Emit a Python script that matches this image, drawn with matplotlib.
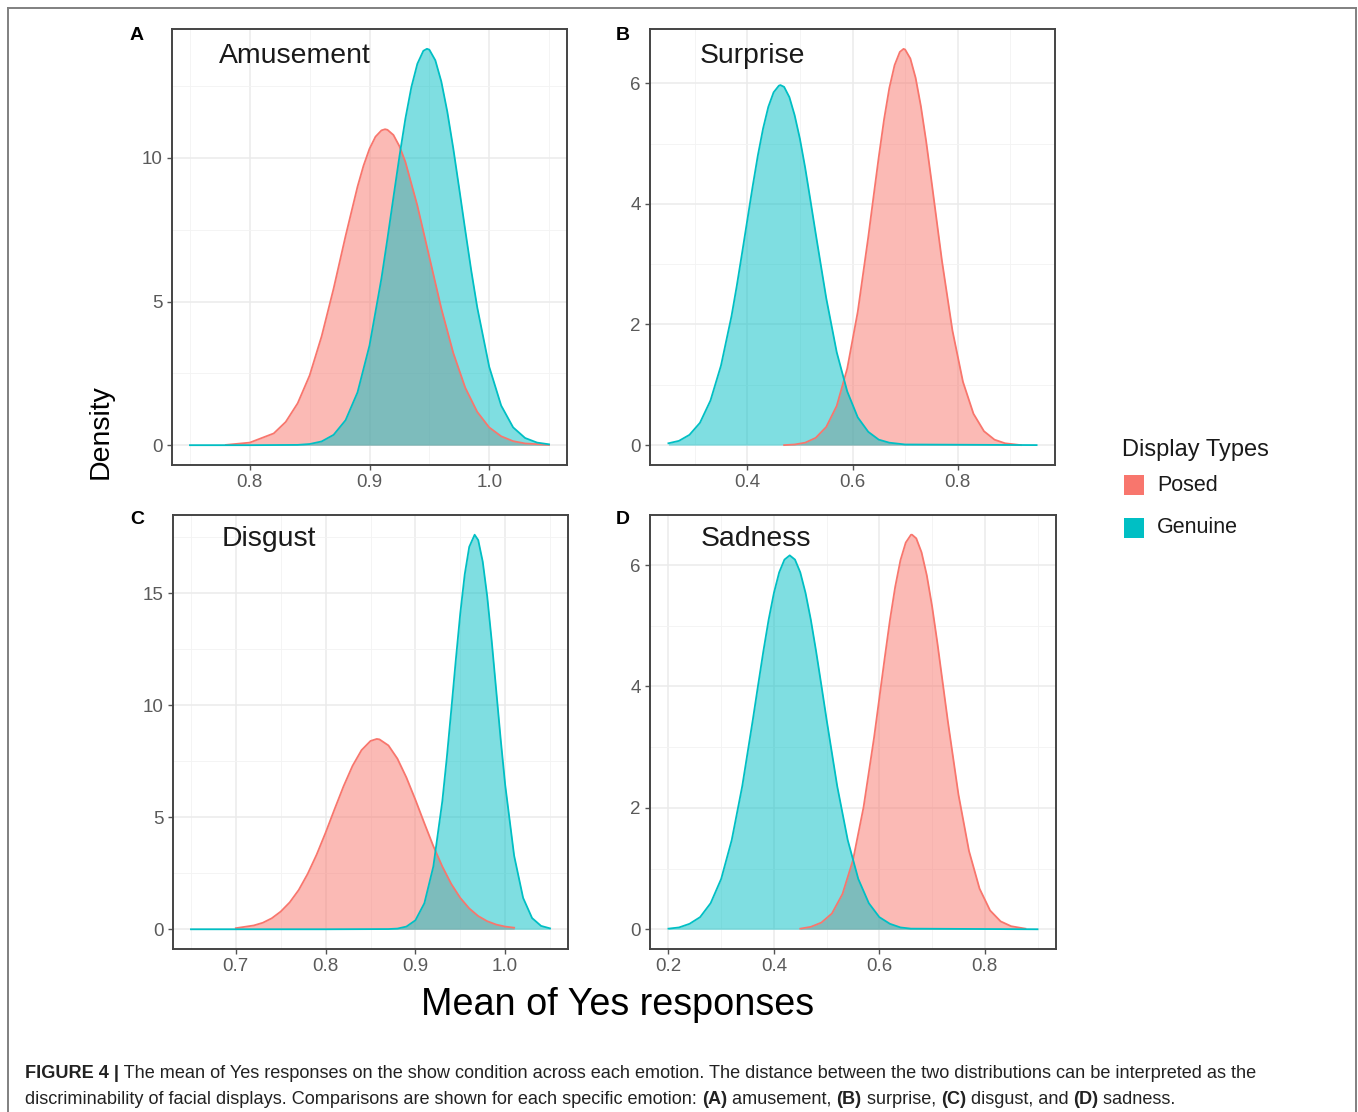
import matplotlib
matplotlib.use('Agg')
import matplotlib.pyplot as plt
from matplotlib.patches import Rectangle
from matplotlib.lines import Line2D

plt.rcParams['font.family'] = ['Liberation Sans', 'DejaVu Sans']

# ---- colores de ggplot
POSED = '#F8766D'
GENUINE = '#00BFC4'

# ---- datos (densidad vs media de respuestas "Yes")
# A) Amusement
a_posed_x = [0.78, 0.80, 0.82, 0.83, 0.84, 0.85, 0.86, 0.87, 0.88, 0.89, 0.895, 0.90, 0.905, 0.91,
             0.913, 0.915, 0.92, 0.925, 0.93, 0.94, 0.95, 0.96, 0.97, 0.98, 0.99, 1.00, 1.01, 1.02,
             1.03, 1.05]
a_posed_y = [0.01, 0.09, 0.41, 0.81, 1.46, 2.43, 3.79, 5.45, 7.28, 9.00, 9.73, 10.32, 10.74, 10.96,
             11.0, 10.98, 10.80, 10.41, 9.86, 8.34, 6.55, 4.76, 3.21, 2.00, 1.16, 0.62, 0.31, 0.14,
             0.06, 0.01]
a_gen_x = [0.75, 0.80, 0.84, 0.85, 0.86, 0.87, 0.88, 0.89, 0.90, 0.91, 0.915, 0.92, 0.925, 0.93,
           0.935, 0.94, 0.945, 0.948, 0.95, 0.955, 0.96, 0.965, 0.97, 0.975, 0.98, 0.985, 0.99,
           1.00, 1.01, 1.02, 1.03, 1.04, 1.05]
a_gen_y = [0.0, 0.0, 0.01, 0.04, 0.13, 0.36, 0.87, 1.84, 3.47, 5.81, 7.19, 8.63, 10.05, 11.37,
           12.47, 13.28, 13.73, 13.80, 13.77, 13.40, 12.66, 11.61, 10.33, 8.92, 7.48, 6.08, 4.80,
           2.73, 1.38, 0.62, 0.25, 0.09, 0.03]

# B) Surprise
b_posed_x = [0.47, 0.49, 0.51, 0.53, 0.55, 0.57, 0.59, 0.61, 0.63, 0.64, 0.65, 0.66, 0.67, 0.68,
             0.69, 0.697, 0.70, 0.71, 0.72, 0.73, 0.74, 0.75, 0.77, 0.79, 0.81, 0.83, 0.85, 0.87,
             0.89, 0.92]
b_posed_y = [0.0, 0.01, 0.04, 0.12, 0.30, 0.65, 1.27, 2.21, 3.45, 4.12, 4.78, 5.40, 5.92, 6.30,
             6.52, 6.57, 6.56, 6.41, 6.09, 5.62, 5.04, 4.39, 3.06, 1.90, 1.05, 0.52, 0.23, 0.09,
             0.03, 0.0]
b_gen_x = [0.25, 0.27, 0.29, 0.31, 0.33, 0.35, 0.37, 0.38, 0.39, 0.40, 0.41, 0.42, 0.43, 0.44,
           0.45, 0.46, 0.463, 0.47, 0.48, 0.49, 0.50, 0.51, 0.52, 0.53, 0.55, 0.57, 0.59, 0.61,
           0.63, 0.65, 0.67, 0.70, 0.95]
b_gen_y = [0.03, 0.07, 0.17, 0.37, 0.74, 1.32, 2.14, 2.64, 3.18, 3.73, 4.28, 4.80, 5.25, 5.61,
           5.85, 5.96, 5.97, 5.94, 5.77, 5.47, 5.08, 4.60, 4.06, 3.51, 2.44, 1.54, 0.89, 0.46,
           0.22, 0.09, 0.04, 0.01, 0.0]

# C) Disgust
c_posed_x = [0.70, 0.72, 0.73, 0.74, 0.75, 0.76, 0.77, 0.78, 0.79, 0.80, 0.81, 0.82, 0.83, 0.84,
             0.85, 0.857, 0.86, 0.87, 0.88, 0.89, 0.90, 0.91, 0.92, 0.93, 0.94, 0.95, 0.96, 0.97,
             0.98, 0.99, 1.00, 1.01]
c_posed_y = [0.05, 0.17, 0.29, 0.49, 0.79, 1.20, 1.75, 2.47, 3.33, 4.31, 5.36, 6.38, 7.29, 7.99,
             8.40, 8.49, 8.47, 8.20, 7.61, 6.77, 5.78, 4.73, 3.71, 2.80, 2.02, 1.40, 0.93, 0.59,
             0.36, 0.21, 0.12, 0.07]
c_gen_x = [0.65, 0.80, 0.87, 0.88, 0.89, 0.90, 0.91, 0.92, 0.93, 0.935, 0.94, 0.945, 0.95, 0.955,
           0.96, 0.966, 0.97, 0.975, 0.98, 0.985, 0.99, 0.995, 1.00, 1.01, 1.02, 1.03, 1.04, 1.05]
c_gen_y = [0.0, 0.0, 0.01, 0.03, 0.12, 0.40, 1.16, 2.80, 5.71, 7.65, 9.79, 12.00, 14.09, 15.84,
           17.06, 17.60, 17.36, 16.40, 14.85, 12.87, 10.67, 8.48, 6.45, 3.28, 1.40, 0.50, 0.15,
           0.04]

# D) Sadness
d_posed_x = [0.45, 0.47, 0.49, 0.51, 0.53, 0.55, 0.57, 0.59, 0.61, 0.62, 0.63, 0.64, 0.65, 0.66,
             0.662, 0.67, 0.68, 0.69, 0.70, 0.71, 0.73, 0.75, 0.77, 0.79, 0.81, 0.83, 0.85, 0.877]
d_posed_y = [0.01, 0.04, 0.11, 0.26, 0.58, 1.14, 2.01, 3.16, 4.46, 5.09, 5.64, 6.08, 6.37, 6.50,
             6.50, 6.44, 6.21, 5.83, 5.32, 4.72, 3.42, 2.22, 1.29, 0.67, 0.31, 0.13, 0.05, 0.01]
d_gen_x = [0.20, 0.22, 0.24, 0.26, 0.28, 0.30, 0.32, 0.34, 0.36, 0.37, 0.38, 0.39, 0.40, 0.41,
           0.42, 0.43, 0.44, 0.45, 0.46, 0.47, 0.48, 0.49, 0.50, 0.52, 0.54, 0.56, 0.58, 0.60,
           0.62, 0.64, 0.66, 0.90]
d_gen_y = [0.01, 0.03, 0.09, 0.20, 0.43, 0.83, 1.47, 2.36, 3.45, 4.02, 4.58, 5.10, 5.54, 5.88,
           6.09, 6.16, 6.09, 5.88, 5.54, 5.10, 4.58, 4.02, 3.45, 2.36, 1.47, 0.83, 0.43, 0.20,
           0.09, 0.03, 0.01, 0.0]

# ---- ejes y etiquetas de cada panel
a_xticks, a_xlabels, a_xminor = [0.8, 0.9, 1.0], ['0.8', '0.9', '1.0'], [0.75, 0.85, 0.95, 1.05]
a_yticks, a_ylabels, a_yminor = [0, 5, 10], ['0', '5', '10'], [2.5, 7.5, 12.5]
b_xticks, b_xlabels, b_xminor = [0.4, 0.6, 0.8], ['0.4', '0.6', '0.8'], [0.3, 0.5, 0.7, 0.9]
b_yticks, b_ylabels, b_yminor = [0, 2, 4, 6], ['0', '2', '4', '6'], [1, 3, 5]
c_xticks, c_xlabels, c_xminor = [0.7, 0.8, 0.9, 1.0], ['0.7', '0.8', '0.9', '1.0'], [0.65, 0.75, 0.85, 0.95, 1.05]
c_yticks, c_ylabels, c_yminor = [0, 5, 10, 15], ['0', '5', '10', '15'], [2.5, 7.5, 12.5, 17.5]
d_xticks, d_xlabels, d_xminor = [0.2, 0.4, 0.6, 0.8], ['0.2', '0.4', '0.6', '0.8'], [0.3, 0.5, 0.7, 0.9]
d_yticks, d_ylabels, d_yminor = [0, 2, 4, 6], ['0', '2', '4', '6'], [1, 3, 5]

W, H = 1358, 1112
fig = plt.figure(figsize=(W / 100, H / 100), dpi=100)


def box(x0, y0, x1, y1):
    return [x0 / W, 1 - y1 / H, (x1 - x0) / W, (y1 - y0) / H]


def ftext(x, y, s, **kw):
    return fig.text(x / W, 1 - y / H, s, **kw)


def panel(rect, px, py, gx, gy, xlim, ylim, xt, xl, xm, yt, yl, ym):
    ax = fig.add_axes(rect)
    ax.fill_between(px, py, color=POSED, alpha=0.5, lw=0)
    ax.plot(px, py, color=POSED, lw=1.3, solid_joinstyle='round')
    ax.fill_between(gx, gy, color=GENUINE, alpha=0.5, lw=0)
    ax.plot(gx, gy, color=GENUINE, lw=1.3, solid_joinstyle='round')
    ax.set_xlim(xlim)
    ax.set_ylim(ylim)
    ax.set_xticks(xt)
    ax.set_xticklabels(xl)
    ax.set_xticks(xm, minor=True)
    ax.set_yticks(yt)
    ax.set_yticklabels(yl)
    ax.set_yticks(ym, minor=True)
    ax.grid(which='major', color='#EBEBEB', lw=1.1)
    ax.grid(which='minor', color='#F3F3F3', lw=0.6)
    ax.set_axisbelow(True)
    ax.tick_params(which='major', length=3.5, width=1, color='#555555',
                   labelsize=13.5, labelcolor='#5a5a5a', pad=3)
    ax.tick_params(which='minor', length=0)
    for s in ax.spines.values():
        s.set_color('#444444')
        s.set_linewidth(1.4)
    return ax


panel(box(172, 29, 567, 465), a_posed_x, a_posed_y, a_gen_x, a_gen_y, (0.735, 1.065), (-0.69, 14.49),
      a_xticks, a_xlabels, a_xminor, a_yticks, a_ylabels, a_yminor)
panel(box(650, 29, 1055, 465), b_posed_x, b_posed_y, b_gen_x, b_gen_y, (0.215, 0.985), (-0.33, 6.9),
      b_xticks, b_xlabels, b_xminor, b_yticks, b_ylabels, b_yminor)
panel(box(173, 515, 568, 949), c_posed_x, c_posed_y, c_gen_x, c_gen_y, (0.63, 1.07), (-0.88, 18.48),
      c_xticks, c_xlabels, c_xminor, c_yticks, c_ylabels, c_yminor)
panel(box(650, 515, 1056, 949), d_posed_x, d_posed_y, d_gen_x, d_gen_y, (0.165, 0.935), (-0.325, 6.825),
      d_xticks, d_xlabels, d_xminor, d_yticks, d_ylabels, d_yminor)

# titulos dentro de cada panel y letras
for x, y, s in [(219, 56, 'Amusement'), (700, 56, 'Surprise'), (222, 539, 'Disgust'), (701, 539, 'Sadness')]:
    ftext(x, y, s, fontsize=20.4, color='#1a1a1a', va='center', ha='left')
for x, y, s in [(130, 35, 'A'), (616, 35, 'B'), (130, 520, 'C'), (616, 520, 'D')]:
    ftext(x, y, s, fontsize=14, fontweight='bold', color='black', va='center', ha='left')

# ejes comunes
ftext(101, 432, 'Density', fontsize=20.5, rotation=90, va='center', ha='center', color='black')
ftext(618, 1005, 'Mean of Yes responses', fontsize=27.2, va='center', ha='center', color='black')

# leyenda
ftext(1122, 450, 'Display Types', fontsize=17, va='center', ha='left', color='#1a1a1a')
for y, s, c in [(485, 'Posed', POSED), (528, 'Genuine', GENUINE)]:
    fig.add_artist(Rectangle(((1124) / W, 1 - (y + 10) / H), 20 / W, 20 / H, transform=fig.transFigure,
                             facecolor=c, edgecolor='none'))
    ftext(1157, y, s, fontsize=15.5, va='center', ha='left', color='#1a1a1a')

# marco exterior
for xs, ys in [([8, 8], [8, H]), ([8, 1356], [8, 8]), ([1356, 1356], [8, H])]:
    fig.add_artist(Line2D([v / W for v in xs], [1 - v / H for v in ys], transform=fig.transFigure,
                          color='#808080', lw=1.4))

# pie de figura con partes en negrita
renderer = fig.canvas.get_renderer()


def rich_line(parts, x0, y, size=13.1):
    x = x0
    for s, bold in parts:
        t = ftext(x, y, s, fontsize=size, fontweight='bold' if bold else 'normal',
                  va='baseline', ha='left', color='#222222')
        x += t.get_window_extent(renderer).width


rich_line([('FIGURE 4 |', True),
           (' The mean of Yes responses on the show condition across each emotion. The distance between the '
            'two distributions can be interpreted as the', False)], 25, 1078)
rich_line([('discriminability of facial displays. Comparisons are shown for each specific emotion: ', False),
           ('(A)', True), (' amusement, ', False), ('(B)', True), (' surprise, ', False),
           ('(C)', True), (' disgust, and ', False), ('(D)', True), (' sadness.', False)], 25, 1104)

fig.savefig('out.png', dpi=100)
